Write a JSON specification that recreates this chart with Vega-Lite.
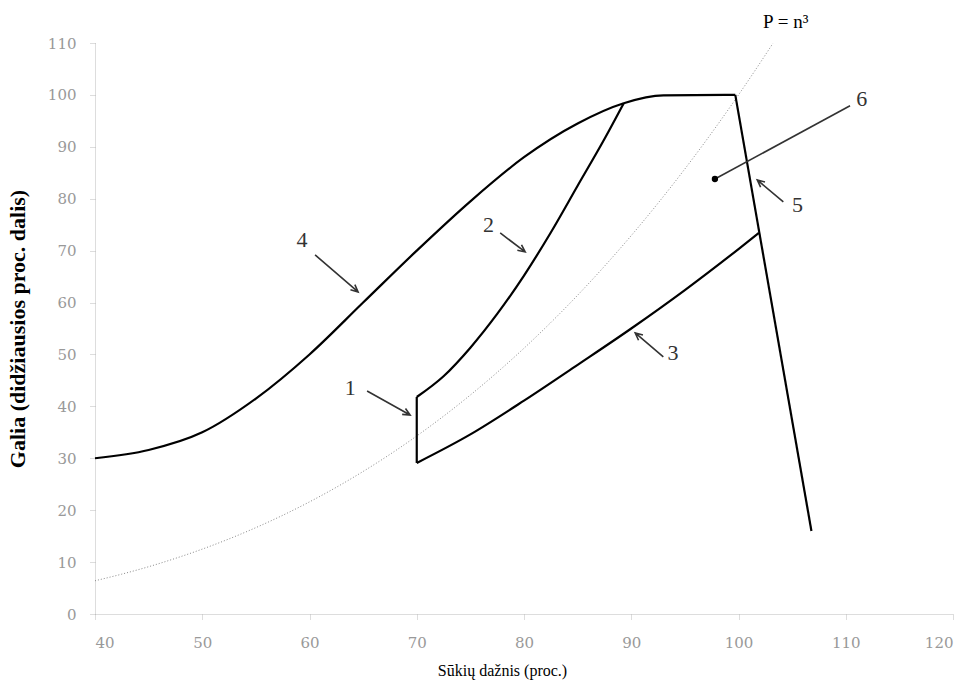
{
  "$schema": "https://vega.github.io/schema/vega-lite/v6.json",
  "width": 858,
  "height": 571,
  "autosize": "none",
  "padding": {"left": 95, "top": 43, "right": 16, "bottom": 70},
  "background": "white",
  "config": {"view": {"stroke": null}},
  "datasets": {
    "cube": [
      {"x": 40, "y": 6.4}, {"x": 42.5, "y": 7.68}, {"x": 45, "y": 9.11}, {"x": 47.5, "y": 10.72},
      {"x": 50, "y": 12.5}, {"x": 52.5, "y": 14.47}, {"x": 55, "y": 16.64}, {"x": 57.5, "y": 19.01},
      {"x": 60, "y": 21.6}, {"x": 62.5, "y": 24.41}, {"x": 65, "y": 27.46}, {"x": 67.5, "y": 30.75},
      {"x": 70, "y": 34.3}, {"x": 72.5, "y": 38.11}, {"x": 75, "y": 42.19}, {"x": 77.5, "y": 46.55},
      {"x": 80, "y": 51.2}, {"x": 82.5, "y": 56.15}, {"x": 85, "y": 61.41}, {"x": 87.5, "y": 66.99},
      {"x": 90, "y": 72.9}, {"x": 92.5, "y": 79.15}, {"x": 95, "y": 85.74}, {"x": 97.5, "y": 92.69},
      {"x": 100, "y": 100}, {"x": 101.5, "y": 104.57}, {"x": 103.2, "y": 109.9}
    ],
    "curves": [
      {"c": "4", "x": 40, "y": 30}, {"c": "4", "x": 45, "y": 31.6}, {"c": "4", "x": 50, "y": 35},
      {"c": "4", "x": 55, "y": 41.5}, {"c": "4", "x": 60, "y": 50}, {"c": "4", "x": 65, "y": 60},
      {"c": "4", "x": 70, "y": 70}, {"c": "4", "x": 75, "y": 79.5}, {"c": "4", "x": 80, "y": 88},
      {"c": "4", "x": 85, "y": 94.5}, {"c": "4", "x": 89.3, "y": 98.4}, {"c": "4", "x": 93, "y": 99.9},
      {"c": "4", "x": 99.7, "y": 100},
      {"c": "2", "x": 70, "y": 41.8}, {"c": "2", "x": 72.5, "y": 45.8}, {"c": "2", "x": 75, "y": 51.3},
      {"c": "2", "x": 77.5, "y": 57.8}, {"c": "2", "x": 80, "y": 65.2}, {"c": "2", "x": 82.5, "y": 73.5},
      {"c": "2", "x": 85, "y": 82.5}, {"c": "2", "x": 87.5, "y": 91.5}, {"c": "2", "x": 89.3, "y": 98.4},
      {"c": "3", "x": 70, "y": 29.1}, {"c": "3", "x": 75, "y": 34.6}, {"c": "3", "x": 80, "y": 41.1},
      {"c": "3", "x": 85, "y": 48}, {"c": "3", "x": 90, "y": 55}, {"c": "3", "x": 95, "y": 62.4},
      {"c": "3", "x": 100, "y": 70.3}, {"c": "3", "x": 101.9, "y": 73.4}
    ],
    "segments": [
      {"s": "1", "k": 1, "x": 70, "y": 29.1}, {"s": "1", "k": 2, "x": 70, "y": 41.8},
      {"s": "5", "k": 1, "x": 99.7, "y": 100}, {"s": "5", "k": 2, "x": 106.8, "y": 16}
    ],
    "arrows": [
      {"s": "a4", "k": 1, "x": 60.52, "y": 69.17}, {"s": "a4", "k": 2, "x": 64.53, "y": 62.04},
      {"s": "a4", "k": 3, "x": 64.23, "y": 63.45}, {"s": "a4", "k": 4, "x": 64.53, "y": 62.04},
      {"s": "a4", "k": 5, "x": 63.82, "y": 62.47},
      {"s": "a2", "k": 1, "x": 77.78, "y": 73.41}, {"s": "a2", "k": 2, "x": 80.11, "y": 69.75},
      {"s": "a2", "k": 3, "x": 79.77, "y": 71.12}, {"s": "a2", "k": 4, "x": 80.11, "y": 69.75},
      {"s": "a2", "k": 5, "x": 79.38, "y": 70.08},
      {"s": "a1", "k": 1, "x": 65.37, "y": 42.97}, {"s": "a1", "k": 2, "x": 69.38, "y": 38.34},
      {"s": "a1", "k": 3, "x": 68.95, "y": 39.6}, {"s": "a1", "k": 4, "x": 69.38, "y": 38.34},
      {"s": "a1", "k": 5, "x": 68.64, "y": 38.46},
      {"s": "a3", "k": 1, "x": 92.99, "y": 49.52}, {"s": "a3", "k": 2, "x": 90.37, "y": 54.14},
      {"s": "a3", "k": 3, "x": 90.68, "y": 52.74}, {"s": "a3", "k": 4, "x": 90.37, "y": 54.14},
      {"s": "a3", "k": 5, "x": 91.09, "y": 53.74},
      {"s": "a5", "k": 1, "x": 104.18, "y": 79.38}, {"s": "a5", "k": 2, "x": 101.75, "y": 83.62},
      {"s": "a5", "k": 3, "x": 102.06, "y": 82.22}, {"s": "a5", "k": 4, "x": 101.75, "y": 83.62},
      {"s": "a5", "k": 5, "x": 102.47, "y": 83.22},
      {"s": "a6", "k": 1, "x": 97.8, "y": 83.8}, {"s": "a6", "k": 2, "x": 110.4, "y": 97.9}
    ],
    "point6": [{"x": 97.8, "y": 83.8}],
    "labels": [
      {"t": "4", "x": 59.3, "y": 72},
      {"t": "2", "x": 76.7, "y": 75},
      {"t": "1", "x": 63.8, "y": 43.5},
      {"t": "3", "x": 93.9, "y": 50.3},
      {"t": "5", "x": 105.5, "y": 78.8},
      {"t": "6", "x": 111.5, "y": 99.2}
    ],
    "title": [{"t": "P = n³", "x": 104.4, "y": 114}]
  },
  "encoding": {
    "x": {
      "field": "x", "type": "quantitative",
      "scale": {"domain": [40, 120], "nice": false, "zero": false},
      "axis": {
        "values": [40, 50, 60, 70, 80, 90, 100, 110, 120],
        "title": "Sūkių dažnis (proc.)",
        "titleFont": "Liberation Serif", "titleFontSize": 16, "titleFontWeight": "normal",
        "titleColor": "#000", "titleX": 407, "titlePadding": 12,
        "labelFont": "DejaVu Serif", "labelFontSize": 15, "labelColor": "#999",
        "labelPadding": 16,
        "grid": false, "domainColor": "#bbb", "domainDash": [1, 1],
        "tickColor": "#bbb", "tickSize": 5, "tickDash": [1, 1]
      }
    },
    "y": {
      "field": "y", "type": "quantitative",
      "scale": {"domain": [0, 110], "nice": false},
      "axis": {
        "values": [0, 10, 20, 30, 40, 50, 60, 70, 80, 90, 100, 110],
        "title": "Galia (didžiausios proc. dalis)",
        "titleFont": "Liberation Serif", "titleFontSize": 22, "titleFontWeight": "bold",
        "titleColor": "#000", "titlePadding": 18,
        "labelFont": "DejaVu Serif", "labelFontSize": 15, "labelColor": "#999",
        "labelPadding": 14,
        "grid": false, "domainColor": "#bbb", "domainDash": [1, 1],
        "tickColor": "#bbb", "tickSize": 5, "tickDash": [1, 1]
      }
    }
  },
  "layer": [
    {
      "data": {"name": "cube"},
      "mark": {"type": "line", "interpolate": "monotone", "color": "#888", "strokeWidth": 1, "strokeDash": [1, 2], "clip": false}
    },
    {
      "data": {"name": "curves"},
      "mark": {"type": "line", "interpolate": "monotone", "color": "#000", "strokeWidth": 2.2},
      "encoding": {"detail": {"field": "c"}}
    },
    {
      "data": {"name": "segments"},
      "mark": {"type": "line", "color": "#000", "strokeWidth": 2.2},
      "encoding": {"detail": {"field": "s"}, "order": {"field": "k"}}
    },
    {
      "data": {"name": "arrows"},
      "mark": {"type": "line", "color": "#333", "strokeWidth": 1.6},
      "encoding": {"detail": {"field": "s"}, "order": {"field": "k"}}
    },
    {
      "data": {"name": "point6"},
      "mark": {"type": "point", "filled": true, "color": "#000", "size": 40, "opacity": 1}
    },
    {
      "data": {"name": "labels"},
      "mark": {"type": "text", "font": "Liberation Serif", "fontSize": 22, "color": "#333", "align": "center", "baseline": "middle"},
      "encoding": {"text": {"field": "t"}}
    },
    {
      "data": {"name": "title"},
      "mark": {"type": "text", "font": "Liberation Serif", "fontSize": 19, "color": "#000", "align": "center", "baseline": "middle", "clip": false},
      "encoding": {"text": {"field": "t"}}
    }
  ]
}
